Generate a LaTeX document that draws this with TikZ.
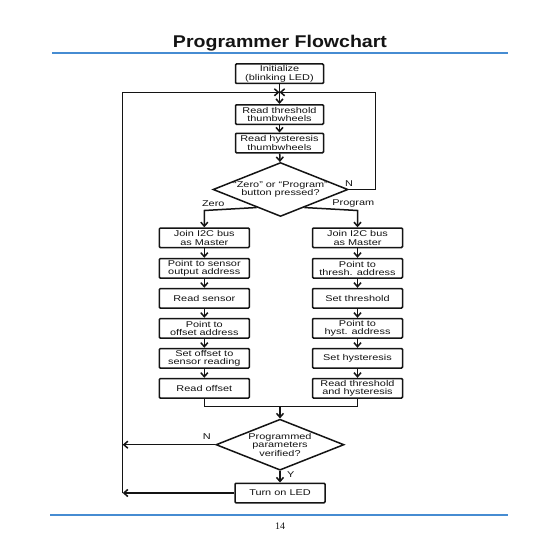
\documentclass[tikz,border=0pt]{standalone}
\usepackage{fontspec}
\setmainfont{Liberation Sans}
\newfontfamily\boxfont[FakeStretch=1.3]{Liberation Sans}
\newfontfamily\titlefont[FakeStretch=1.15]{Liberation Sans}
\newfontfamily\pagefont{Liberation Serif}
\usetikzlibrary{shapes.geometric,arrows.meta,calc}
\definecolor{rulecol}{RGB}{70,140,210}
\definecolor{ink}{RGB}{20,20,20}
\begin{document}
\begin{tikzpicture}[x=1pt,y=-1pt,
  every node/.style={inner sep=0pt, text=ink},
  box/.style={draw=ink, line width=1.5pt, rounded corners=1pt, minimum width=88pt,
    minimum height=19.5pt, align=center, font=\boxfont\fontsize{8.4}{8.6}\selectfont},
  cbox/.style={box, minimum width=90pt},
  dia/.style={draw=ink, line width=1.5pt, shape=diamond, align=center,
    font=\boxfont\fontsize{8.4}{8.6}\selectfont},
  lbl/.style={font=\boxfont\fontsize{8.4}{8.6}\selectfont},
  line/.style={draw=ink, line width=1.5pt},
  arr/.style={line, -{Straight Barb[length=4pt,width=7pt,line width=1.5pt]}}
]
\useasboundingbox (0,0) rectangle (560,560);
\fill[white] (0,0) rectangle (560,560);

% title and rules
\node[font=\titlefont\bfseries\fontsize{17}{20}\selectfont, anchor=base] (title) at (280,47) {Programmer Flowchart};
\draw[rulecol, line width=1.3pt] (52,53) -- (508,53);
\draw[rulecol, line width=1.3pt] (50,515) -- (508,515);
\node[font=\pagefont\fontsize{10}{12}\selectfont] (pg) at (280,526) {14};

% main column
\node[box] (init) at (279.5,73.7) {Initialize\\(blinking LED)};
\coordinate (m) at (279.5,92.3);
\node[box] (rt) at (279.5,114.5) {Read threshold\\thumbwheels};
\node[box] (rh) at (279.5,143) {Read hysteresis\\thumbwheels};
\node[dia, aspect=2.5, minimum width=128pt, minimum height=51pt] (d1) at (280.5,189.5) {“Zero” or “Program”\\button pressed?};

\node[lbl] (n1) at (349,183.3) {N};
\node[lbl] (zero) at (213.3,203.8) {Zero};
\node[lbl] (prog) at (353.3,203.8) {Program};

% left (Zero) column
\node[cbox] (z1) at (204.3,237.8) {Join I2C bus\\as Master};
\node[cbox] (z2) at (204.3,268.3) {Point to sensor\\output address};
\node[cbox] (z3) at (204.3,298.3) {Read sensor};
\node[cbox] (z4) at (204.3,328.3) {Point to\\offset address};
\node[cbox] (z5) at (204.3,358.3) {Set offset to\\sensor reading};
\node[cbox] (z6) at (204.3,388.3) {Read offset};

% right (Program) column
\node[cbox] (p1) at (357.5,237.8) {Join I2C bus\\as Master};
\node[cbox] (p2) at (357.5,268.3) {Point to\\thresh. address};
\node[cbox] (p3) at (357.5,298.3) {Set threshold};
\node[cbox] (p4) at (357.5,328.3) {Point to\\hyst. address};
\node[cbox] (p5) at (357.5,358.3) {Set hysteresis};
\node[cbox] (p6) at (357.5,388.3) {Read threshold\\and hysteresis};

% lower part
\node[dia, aspect=2.5, minimum width=128pt, minimum height=51pt] (d2) at (280,444.7) {Programmed\\parameters\\verified?};
\node[lbl] (n2) at (206.7,436.7) {N};
\node[lbl] (y2) at (290.7,475) {Y};
\node[cbox] (led) at (280,493) {Turn on LED};

% coordinates for connectors
\coordinate (rc) at (375.7,92.3);
\coordinate (lt) at (122.7,92.3);
\coordinate (lb) at (122.7,493);
\coordinate (ln) at (122.7,444.7);
\coordinate (zc) at (204.3,210.5);
\coordinate (pc) at (357.5,210.5);
\coordinate (ml) at (204.3,406.7);
\coordinate (mr) at (357.5,406.7);
\coordinate (mc) at (280,406.7);

% connectors
\draw[line] (init) -- (m);
\draw[arr] (m) -- (rt);
\draw[arr] (rt) -- (rh);
\draw[arr] (rh) -- (d1);
\draw[arr] (d1.east) -| (rc) -- (m);
\draw[arr] (lb) -- (lt) -- (m);

\draw[arr] ($(d1.west)!0.65!(d1.south)$) -- (zc) -- (z1);
\draw[arr] ($(d1.east)!0.65!(d1.south)$) -- (pc) -- (p1);

\draw[arr] (z1) -- (z2);
\draw[arr] (z2) -- (z3);
\draw[arr] (z3) -- (z4);
\draw[arr] (z4) -- (z5);
\draw[arr] (z5) -- (z6);
\draw[arr] (p1) -- (p2);
\draw[arr] (p2) -- (p3);
\draw[arr] (p3) -- (p4);
\draw[arr] (p4) -- (p5);
\draw[arr] (p5) -- (p6);

\draw[line] (z6) -- (ml) -- (mr) -- (p6);
\draw[arr] (mc) -- (d2);
\draw[arr] (d2) -- (led);
\draw[arr] (d2.west) -- (ln);
\draw[arr] (led.west) -- (lb);
\end{tikzpicture}
\end{document}
